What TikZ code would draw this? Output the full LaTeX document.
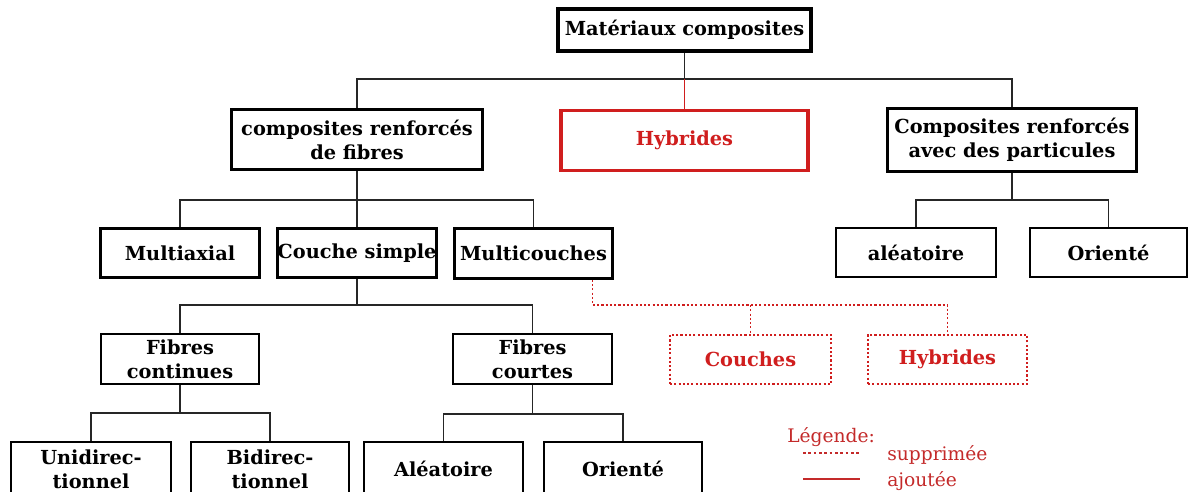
\documentclass[tikz,border=0pt]{standalone}
\usepackage{fontspec}
\setmainfont{DejaVu Serif}
\usetikzlibrary{calc}
\definecolor{myred}{HTML}{D01E1E}
\definecolor{legred}{HTML}{C42A2A}
\tikzset{
  box/.style={draw=black, fill=white, inner sep=0pt, align=center,
    font=\bfseries\fontsize{14.5}{18}\selectfont, line width=1.5pt},
  heavy/.style={box, line width=2.3pt},
  medium/.style={box, line width=1.9pt},
  redbox/.style={box, draw=myred, text=myred, line width=2.3pt},
  delbox/.style={box, draw=myred, text=myred, line width=1.4pt, dash pattern=on 1.6pt off 1.6pt},
  conn/.style={draw=black!85, line width=1.1pt},
  addconn/.style={draw=myred, line width=1.1pt},
  delconn/.style={draw=myred, line width=1.2pt, dash pattern=on 1.6pt off 1.6pt},
  legtext/.style={text=legred, font=\fontsize{14}{16}\selectfont, inner sep=0pt, anchor=west}
}
\begin{document}
\begin{tikzpicture}[x=0.75pt,y=-0.75pt]
\useasboundingbox (0,0) rectangle (1190,492);
\clip (0,0) rectangle (1190,492);
\fill[white] (0,0) rectangle (1190,492);

% level 0
\node[box, line width=3pt, minimum width=253*0.75pt, minimum height=42*0.75pt] (top) at (684.5,30) {Matériaux composites};

% level 1
\node[heavy, minimum width=251*0.75pt, minimum height=60*0.75pt] (crf) at (357,139.5) {composites renforcés\\de fibres};
\node[redbox, minimum width=247*0.75pt, minimum height=60*0.75pt] (hyb) at (684.5,140.5) {Hybrides};
\node[heavy, minimum width=249*0.75pt, minimum height=63*0.75pt] (part) at (1012,140) {Composites renforcés\\avec des particules};

% level 2
\node[medium, minimum width=159*0.75pt, minimum height=49*0.75pt] (ma) at (180,253) {Multiaxial};
\node[heavy, minimum width=157*0.75pt, minimum height=49*0.75pt] (cs) at (357,253) {Couche simple};
\node[medium, minimum width=158*0.75pt, minimum height=50*0.75pt] (mc) at (533.5,253.5) {Multicouches};
\node[box, minimum width=160*0.75pt, minimum height=49*0.75pt] (pa) at (916,252.5) {aléatoire};
\node[box, minimum width=157*0.75pt, minimum height=49*0.75pt] (po) at (1108.5,252.5) {Orienté};

% level 3
\node[box, minimum width=158*0.75pt, minimum height=50*0.75pt] (fc) at (180,359) {Fibres\\continues};
\node[box, minimum width=159*0.75pt, minimum height=50*0.75pt] (fk) at (532.5,359) {Fibres\\courtes};
\node[delbox, minimum width=161*0.75pt, minimum height=49*0.75pt] (cou) at (750.5,359.5) {Couches};
\node[delbox, minimum width=159*0.75pt, minimum height=49*0.75pt] (hy2) at (947.5,359.5) {Hybrides};

% level 4
\node[box, minimum width=160*0.75pt, minimum height=54*0.75pt] (uni) at (91,469) {Unidirec-\\tionnel};
\node[box, minimum width=158*0.75pt, minimum height=54*0.75pt] (bi) at (270,469) {Bidirec-\\tionnel};
\node[box, minimum width=159*0.75pt, minimum height=54*0.75pt] (al) at (443.5,469) {Aléatoire};
\node[box, minimum width=158*0.75pt, minimum height=54*0.75pt] (or) at (623,469) {Orienté};

% connectors
\coordinate (j0) at (684.5,79);
\draw[conn] (top.south) -- (j0);
\draw[conn] (crf.north) |- (j0) -| (part.north);
\draw[addconn] (j0) -- (hyb.north);

\coordinate (j1) at (357,200);
\draw[conn] (crf.south) -- (j1);
\draw[conn] (ma.north) |- (j1) -| (mc.north);
\draw[conn] (j1) -- (cs.north);

\coordinate (j2) at (1012,200);
\draw[conn] (part.south) -- (j2);
\draw[conn] (pa.north) |- (j2) -| (po.north);

\coordinate (j3) at (357,305);
\draw[conn] (cs.south) -- (j3);
\draw[conn] (fc.north) |- (j3) -| (fk.north);

\coordinate (j4) at (180,413);
\draw[conn] (fc.south) -- (j4);
\draw[conn] (uni.north) |- (j4) -| (bi.north);

\coordinate (j5) at (532.5,414);
\draw[conn] (fk.south) -- (j5);
\draw[conn] (al.north) |- (j5) -| (or.north);

\coordinate (ms) at ($(mc.south)+(59,0)$);
\coordinate (j6) at (750.5,305);
\draw[delconn] (ms) |- (j6) -| (hy2.north);
\draw[delconn] (j6) -- (cou.north);

% legend
\node[legtext] (leg) at (787,437) {Légende:};
\node[legtext] (sup) at (887,455) {supprimée};
\node[legtext] (ajo) at (887,481) {ajoutée};
\draw[legred, line width=1pt, dash pattern=on 2pt off 2pt] (803,453) -- (860,453);
\draw[legred, line width=1.3pt] (803,479) -- (860,479);
\end{tikzpicture}
\end{document}
